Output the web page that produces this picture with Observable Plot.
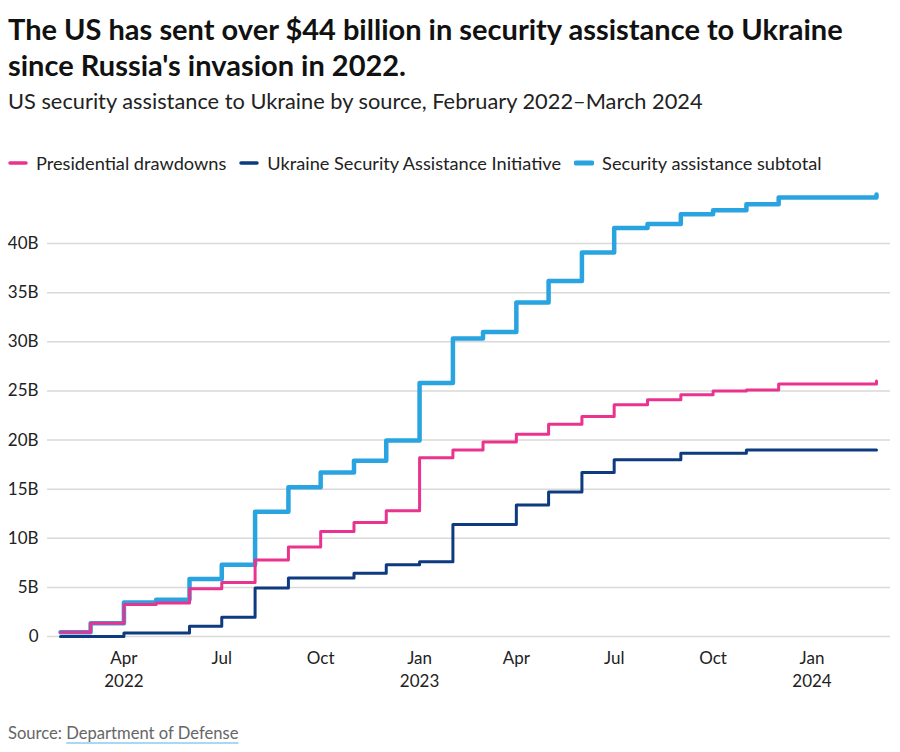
<!DOCTYPE html>
<html>
<head>
<meta charset="utf-8">
<script src="https://cdn.jsdelivr.net/npm/d3@7"></script>
<script src="https://cdn.jsdelivr.net/npm/@observablehq/plot@0.6"></script>
<style>
  html, body { margin: 0; padding: 0; background: #fff; }
  body { width: 900px; height: 752px; position: relative; overflow: hidden; font-family: Lato, "Noto Sans", sans-serif; color: #111; }
  #title { position: absolute; left: 8px; top: 11px; width: 870px; font-size: 29px; font-weight: 700; line-height: 36px; color: #111; }
  #subtitle { position: absolute; left: 8px; top: 87px; font-size: 21.8px; line-height: 28px; color: #222; }
  #legend { position: absolute; left: 8px; top: 152px; display: flex; align-items: center; font-size: 18.2px; color: #222; }
  #legend .item { display: flex; align-items: center; margin-right: 13px; }
  #legend svg { margin-right: 8px; }
  #chart { position: absolute; left: 0; top: 180px; }
  #source { position: absolute; left: 8px; top: 723px; font-size: 16.6px; color: #666; }
  #source span { text-decoration: underline; text-decoration-color: #a9d9f2; text-decoration-thickness: 2px; text-underline-offset: 3px; }
</style>
</head>
<body>
<div id="title">The US has sent over $44 billion in security assistance to Ukraine since Russia's invasion in 2022.</div>
<div id="subtitle">US security assistance to Ukraine by source, February 2022–March 2024</div>
<div id="legend"></div>
<div id="chart"></div>
<div id="source">Source: <span>Department of Defense</span></div>
<script>
// Months (start of each month), Feb 2022 – Mar 2024
const months = [
  "2022-02","2022-03","2022-04","2022-05","2022-06","2022-07","2022-08","2022-09","2022-10","2022-11","2022-12",
  "2023-01","2023-02","2023-03","2023-04","2023-05","2023-06","2023-07","2023-08","2023-09","2023-10","2023-11","2023-12",
  "2024-01","2024-02","2024-03"
];
// Cumulative values, billions of USD
const drawdowns = [0.44,1.35,3.25,3.4,4.85,5.5,7.8,9.1,10.7,11.6,12.8,18.2,19.0,19.8,20.6,21.6,22.4,23.6,24.1,24.6,25.0,25.1,25.7,25.7,25.7,26.0];
const usai      = [0,0,0.35,0.35,1.05,1.95,4.95,5.95,5.95,6.45,7.3,7.6,11.4,11.4,13.4,14.7,16.7,18.0,18.0,18.65,18.65,19.0,19.0,19.0,19.0,19.0];
const subtotal  = [0.44,1.35,3.45,3.75,5.85,7.3,12.7,15.2,16.7,17.9,19.95,25.8,30.35,31.0,34.0,36.2,39.1,41.6,42.0,43.0,43.4,44.0,44.7,44.7,44.7,45.0];

const seriesNames = ["Presidential drawdowns","Ukraine Security Assistance Initiative","Security assistance subtotal"];
const seriesColors = ["#e9338e","#0e3a80","#2aa4e0"];
const seriesWidths = [3,3,4.5];

const xTicks = ["2022-04","2022-07","2022-10","2023-01","2023-04","2023-07","2023-10","2024-01"];
const yTicks = [0,5,10,15,20,25,30,35,40];

const parse = s => new Date(s + "-01T00:00:00Z");
const monthNames = ["Jan","Feb","Mar","Apr","May","Jun","Jul","Aug","Sep","Oct","Nov","Dec"];

const rows = (vals, name) => months.map((m, i) => ({date: parse(m), value: vals[i], series: name}));
const dData = rows(drawdowns, seriesNames[0]);
const uData = rows(usai, seriesNames[1]);
const sData = rows(subtotal, seriesNames[2]);

const tickDates = xTicks.map(parse);

const chart = Plot.plot({
  width: 900,
  height: 520,
  marginTop: 14,
  marginBottom: 64,
  marginLeft: 47,
  marginRight: 10,
  style: {fontFamily: "Lato, 'Noto Sans', sans-serif", fontSize: "17px", color: "#222", background: "transparent"},
  x: {type: "utc", domain: [parse(months[0]), parse(months[months.length - 1])], insetLeft: 13, insetRight: 14, label: null},
  y: {domain: [0, 45], label: null},
  marks: [
    Plot.gridY(yTicks, {stroke: "#d9d9d9", strokeOpacity: 1, strokeWidth: 1.5}),
    Plot.axisY(yTicks, {tickSize: 0, tickPadding: 9, label: null, tickFormat: d => d === 0 ? "0" : d + "B", fill: "#222"}),
    Plot.axisX(tickDates, {
      tickSize: 0, tickPadding: 11, lineHeight: 1.35, fill: "#222", label: null,
      tickFormat: (d, i) => {
        const m = monthNames[d.getUTCMonth()];
        return (i === 0 || d.getUTCMonth() === 0) ? m + "\n" + d.getUTCFullYear() : m;
      }
    }),
    Plot.lineY(sData, {x: "date", y: "value", curve: "step-after", stroke: seriesColors[2], strokeWidth: seriesWidths[2]}),
    Plot.lineY(dData, {x: "date", y: "value", curve: "step-after", stroke: seriesColors[0], strokeWidth: seriesWidths[0]}),
    Plot.lineY(uData, {x: "date", y: "value", curve: "step-after", stroke: seriesColors[1], strokeWidth: seriesWidths[1]})
  ]
});
document.getElementById("chart").appendChild(chart);

// Legend
const legend = document.getElementById("legend");
seriesNames.forEach((name, i) => {
  const item = document.createElement("div");
  item.className = "item";
  const sw = i === 2 ? 5 : 3.5;
  item.innerHTML = `<svg width="20" height="10"><line x1="2" x2="18" y1="5" y2="5" stroke="${seriesColors[i]}" stroke-width="${sw}" stroke-linecap="round"/></svg><span>${name}</span>`;
  legend.appendChild(item);
});
</script>
</body>
</html>
